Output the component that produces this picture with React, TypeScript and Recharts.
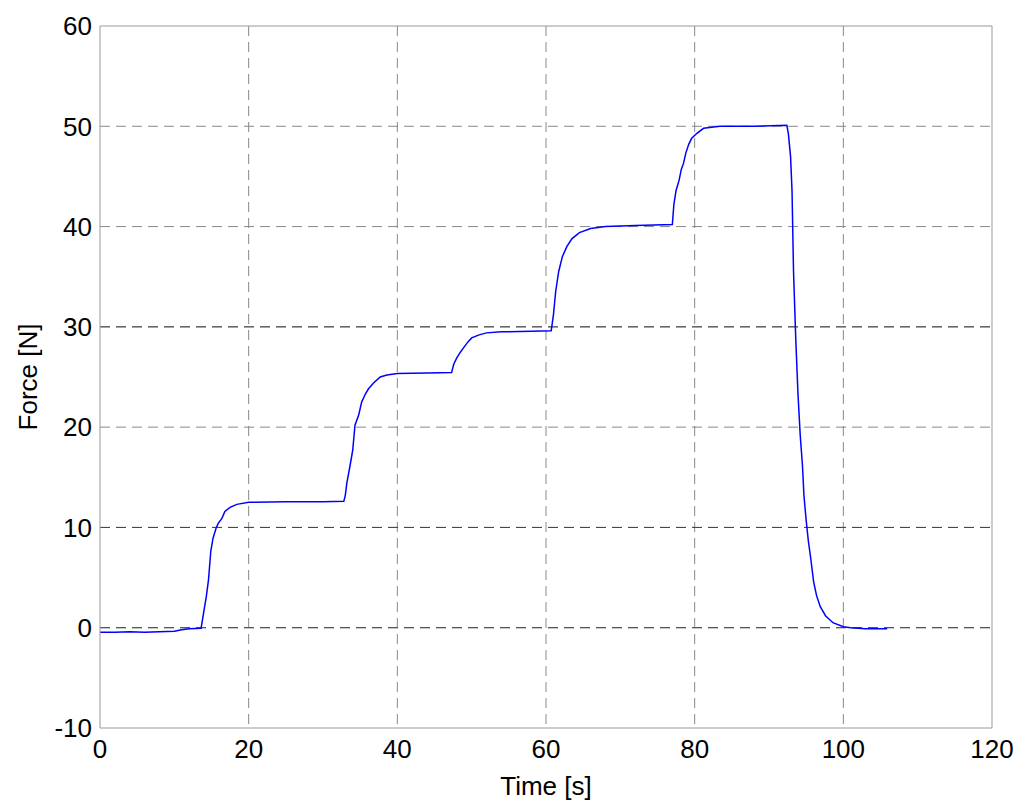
import React from "react";
import {
  LineChart,
  Line,
  XAxis,
  YAxis,
  CartesianGrid,
  ReferenceLine,
} from "recharts";

const timeS = [
  0, 2, 4, 6, 8, 10, 11, 12, 13.6, 13.9, 14.3, 14.6, 14.9, 15.2, 15.6, 15.9,
  16.4, 16.8, 17.5, 18.4, 20, 25, 30, 32.8, 33.0, 33.2, 33.6, 34.0, 34.3, 34.8,
  35.2, 35.7, 36.1, 36.8, 37.7, 38.6, 40, 44, 47.3, 47.6, 48, 48.5, 49, 49.5,
  50, 51, 52, 54, 58, 60.7, 61.0, 61.3, 61.7, 62.2, 62.8, 63.5, 64.5, 66, 68,
  72, 77.0, 77.2, 77.5, 77.9, 78.2, 78.5, 78.8, 79.2, 79.6, 80.3, 81.2, 83.4,
  88, 92.4, 92.6, 92.9, 93.1, 93.3, 93.6, 93.9, 94.2, 94.5, 94.7, 95.0, 95.3,
  95.6, 96.0, 96.4, 96.9, 97.6, 98.6, 100, 101, 103, 105.9,
];
const forceN = [
  -0.45, -0.45, -0.4, -0.45, -0.4, -0.35, -0.2, -0.1, -0.05, 1.3, 3.1, 4.8,
  7.6, 8.9, 9.9, 10.4, 10.9, 11.6, 12.0, 12.3, 12.5, 12.55, 12.55, 12.6, 13.2,
  14.4, 16.0, 17.7, 20.2, 21.2, 22.5, 23.3, 23.8, 24.4, 25.0, 25.2, 25.35,
  25.4, 25.45, 26.3, 26.9, 27.5, 28.0, 28.5, 28.9, 29.2, 29.4, 29.5, 29.55,
  29.6, 31.2, 33.5, 35.5, 37.0, 38.0, 38.8, 39.4, 39.8, 40.0, 40.1, 40.2, 42.2,
  43.6, 44.6, 45.7, 46.3, 47.3, 48.2, 48.8, 49.3, 49.8, 50.0, 50.0, 50.1, 49.3,
  47.0, 43.5, 35.5, 28.8, 23.3, 19.2, 16.2, 13.2, 10.7, 8.6, 7.0, 4.6, 3.2,
  2.1, 1.2, 0.5, 0.1, 0.0, -0.1, -0.1,
];

const xTicks = [0, 20, 40, 60, 80, 100, 120];
const yTicks = [-10, 0, 10, 20, 30, 40, 50, 60];
// these horizontal grid lines come out darker in the original
const darkGridY = [0, 10, 30];

const data = timeS.map((t, i) => ({ t, f: forceN[i] }));

const font = "'Liberation Sans', Arial, sans-serif";
const textStyle = { fontSize: 26, fill: "#000", fontFamily: font };

export default function App() {
  return (
    <div style={{ position: "absolute", left: 0, top: 0, background: "#fff" }}>
      <LineChart
        width={1024}
        height={808}
        data={data}
        margin={{ top: 26, right: 32, bottom: 0, left: 0 }}
      >
        <CartesianGrid
          stroke="#888"
          strokeDasharray="10 6"
          horizontalValues={yTicks.slice(1, -1)}
          verticalValues={xTicks.slice(1, -1)}
        />
        {darkGridY.map((y) => (
          <ReferenceLine key={y} y={y} stroke="#444" strokeDasharray="10 6" />
        ))}
        <XAxis
          dataKey="t"
          type="number"
          domain={[0, 120]}
          ticks={xTicks}
          height={80}
          tickSize={0}
          tickMargin={12}
          stroke="#999"
          tick={textStyle}
          label={{
            value: "Time [s]",
            position: "insideBottom",
            offset: 13,
            style: textStyle,
          }}
        />
        <YAxis
          type="number"
          domain={[-10, 60]}
          ticks={yTicks}
          width={100}
          tickSize={0}
          tickMargin={8}
          stroke="#999"
          tick={textStyle}
          label={{
            value: "Force [N]",
            angle: -90,
            position: "insideLeft",
            offset: 28,
            style: { ...textStyle, textAnchor: "middle" },
          }}
        />
        <ReferenceLine y={60} stroke="#999" />
        <ReferenceLine x={120} stroke="#999" />
        <Line
          dataKey="f"
          type="linear"
          stroke="#0000ff"
          strokeWidth={1.5}
          dot={false}
          isAnimationActive={false}
        />
      </LineChart>
    </div>
  );
}
